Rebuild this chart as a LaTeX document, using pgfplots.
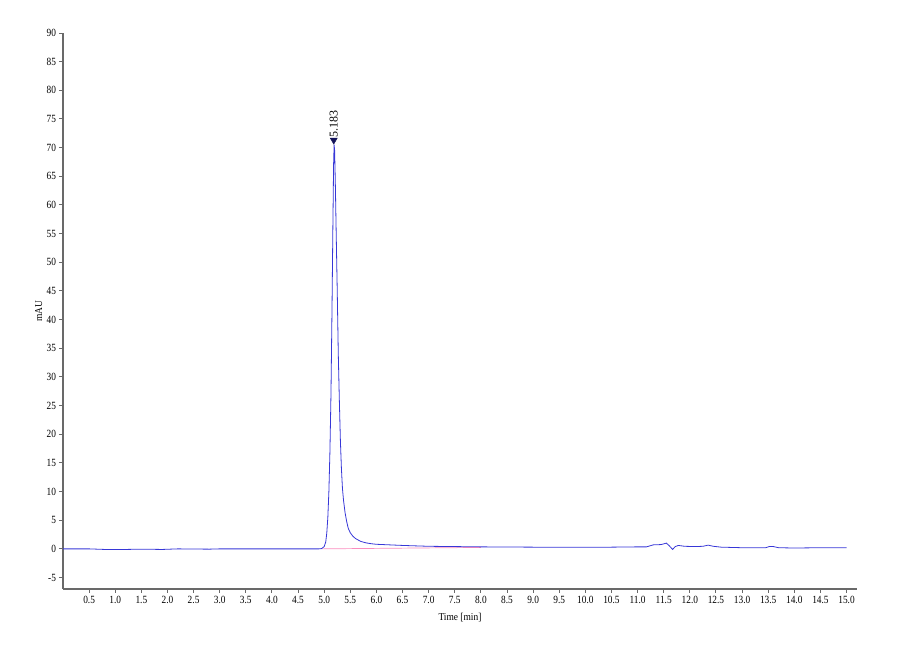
\documentclass[border=0pt]{standalone}
\usepackage{fontspec}
\setmainfont{Liberation Serif}
\usepackage{pgfplots}
\pgfplotsset{compat=1.18}
\definecolor{trace}{RGB}{55,55,215}
\definecolor{basecol}{RGB}{250,140,190}
\definecolor{spine}{RGB}{105,105,105}
\definecolor{navy}{RGB}{20,20,90}

\begin{document}
\begin{tikzpicture}
\begin{axis}[
    scale only axis,
    width=794pt, height=556pt,
    xmin=0, xmax=15.2, ymin=-7, ymax=90,
    axis x line*=bottom, axis y line*=left,
    axis line style={spine, line width=1.4pt, -},
    xtick={0.5,1.0,1.5,2.0,2.5,3.0,3.5,4.0,4.5,5.0,5.5,6.0,6.5,7.0,7.5,8.0,8.5,9.0,9.5,10.0,10.5,11.0,11.5,12.0,12.5,13.0,13.5,14.0,14.5,15.0},
    ytick={-5,0,5,10,15,20,25,30,35,40,45,50,55,60,65,70,75,80,85,90},
    tick align=outside,
    major tick length=4pt,
    tick style={spine, line width=1pt},
    /pgf/number format/assume math mode=true,
    tick label style={font=\fontsize{11}{12}\selectfont, xscale=0.85},
    xticklabel style={/pgf/number format/.cd, fixed, fixed zerofill, precision=1},
    xlabel={Time [min]},
    ylabel={mAU},
    label style={font=\fontsize{10.5}{11}\selectfont, xscale=0.9},
    xlabel style={yshift=-2pt},
    ylabel style={yshift=-2pt},
    clip=false,
]
% baseline of integration
\addplot[basecol, line width=0.7pt] coordinates {(4.95,0.0) (8.0,0.25)};
% chromatogram trace
\addplot[trace, line width=0.8pt] coordinates {
(0.0,0.0) (0.5,0.0) (0.8,-0.1) (1.2,-0.1) (1.5,-0.05) (1.9,-0.1) (2.2,0.0)
(2.8,-0.05) (3.0,0.0) (4.0,0.0) (4.9,0.0)
(4.95,0.05) (5.00,0.4) (5.03,1.2) (5.05,2.8) (5.07,5.5) (5.09,10) (5.11,17)
(5.13,27) (5.15,42) (5.165,55) (5.18,67) (5.19,70.5) (5.20,69.5) (5.215,63)
(5.23,55) (5.25,45) (5.27,34) (5.29,26) (5.31,19) (5.33,14) (5.35,10.5)
(5.37,8.5) (5.40,6.3) (5.43,4.8) (5.46,3.6) (5.50,2.8) (5.55,2.2) (5.60,1.8)
(5.70,1.3) (5.80,1.05) (5.90,0.9) (6.00,0.8) (6.25,0.7) (6.50,0.6) (7.00,0.45)
(7.50,0.4) (8.00,0.35) (9.00,0.3) (10.00,0.3) (10.50,0.3) (11.00,0.35)
(11.17,0.35) (11.3,0.7) (11.45,0.75) (11.55,1.0) (11.6,0.6) (11.67,-0.1)
(11.72,0.4) (11.78,0.6) (11.9,0.45) (12.1,0.4) (12.25,0.45) (12.35,0.65)
(12.45,0.45) (12.6,0.3) (13.0,0.2) (13.45,0.2) (13.52,0.4) (13.6,0.4)
(13.7,0.2) (14.0,0.15) (14.5,0.2) (15.0,0.2)
};
% peak marker and retention time
\addplot[only marks, mark=triangle*, mark options={navy, fill=navy, rotate=180, scale=2},
    nodes near coords={5.183},
    nodes near coords style={rotate=90, anchor=west, black, inner sep=2pt,
        font=\fontsize{12}{13}\selectfont}]
    coordinates {(5.183,71.3)};
\end{axis}
\pgfresetboundingbox
\useasboundingbox (-63pt,-71pt) rectangle (837pt,589pt);
\end{tikzpicture}
\end{document}
